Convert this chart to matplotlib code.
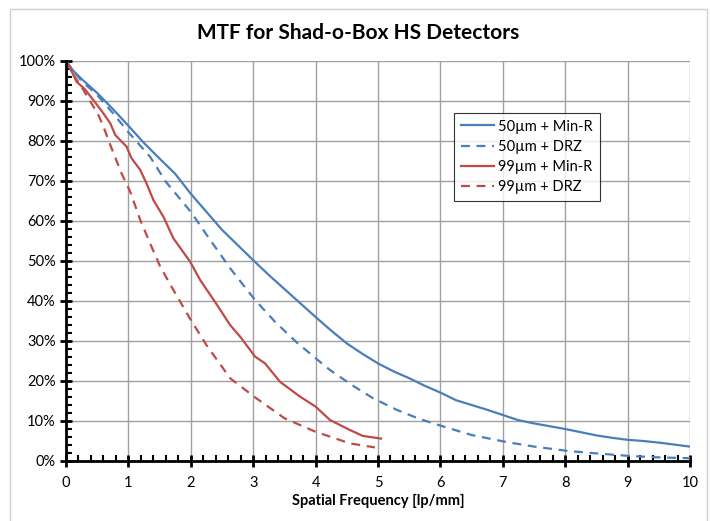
import matplotlib
matplotlib.use("Agg")
import matplotlib.pyplot as plt
from matplotlib.ticker import MultipleLocator, FuncFormatter
from matplotlib.patches import Rectangle

plt.rcParams['font.family'] = ['Lato', 'DejaVu Sans']

# ---- data ----
x_50_minr = [0, 0.12, 0.25, 0.5, 0.75, 1.0, 1.25, 1.5, 1.75, 2.0, 2.25, 2.5, 2.75,
             3.0, 3.25, 3.5, 3.75, 4.0, 4.25, 4.5, 4.75, 5.0, 5.25, 5.5, 5.75,
             6.0, 6.25, 6.5, 6.75, 7.0, 7.25, 7.5, 7.75, 8.0, 8.25, 8.5, 8.75,
             9.0, 9.25, 9.5, 9.75, 10.0]
y_50_minr = [100, 97.5, 95.5, 92, 88, 83.8, 79.5, 75.6, 71.8, 66.8, 62.3, 57.8, 54.0,
             50.2, 46.5, 43.0, 39.5, 36.0, 32.6, 29.4, 26.8, 24.4, 22.4, 20.7, 18.8,
             17.1, 15.2, 14.0, 12.8, 11.5, 10.2, 9.4, 8.7, 8.0, 7.2, 6.4, 5.8,
             5.3, 5.0, 4.6, 4.1, 3.6]

x_50_drz = [0, 0.12, 0.25, 0.5, 0.75, 1.0, 1.35, 1.6, 2.0, 2.3, 2.63, 2.84, 3.03,
            3.35, 3.7, 4.07, 4.23, 4.6, 4.92, 5.3, 5.65, 6.05, 6.5, 7.04, 7.5,
            8.05, 8.5, 9.04, 9.5, 10.0]
y_50_drz = [100, 97.5, 95.0, 91.5, 87, 82.2, 76.0, 69.8, 62.3, 55.5, 48.2, 44.0, 40.25,
            34.8, 29.6, 24.8, 22.75, 18.8, 15.7, 12.8, 10.6, 8.6, 6.5, 4.8, 3.6,
            2.5, 1.9, 1.25, 0.9, 0.7]

x_99_minr = [0, 0.12, 0.17, 0.3, 0.46, 0.6, 0.71, 0.79, 0.97, 1.05, 1.19, 1.29, 1.40,
             1.56, 1.72, 1.99, 2.15, 2.4, 2.63, 2.79, 3.03, 3.19, 3.43, 3.75, 4.0,
             4.23, 4.55, 4.76, 4.92, 5.05]
y_99_minr = [100, 96.5, 94.8, 93.0, 89.8, 86.9, 84.4, 81.5, 78.6, 75.7, 72.75, 69.4, 65.25,
             61.1, 55.7, 49.8, 45.25, 39.5, 34.0, 31.1, 26.1, 24.4, 19.8, 16.1, 13.6,
             10.25, 7.75, 6.25, 5.9, 5.6]

x_99_drz = [0, 0.12, 0.25, 0.52, 0.6, 0.71, 0.89, 1.03, 1.19, 1.37, 1.51, 1.69, 2.0,
            2.25, 2.63, 3.03, 3.5, 4.0, 4.23, 4.55, 4.95]
y_99_drz = [100, 96.5, 93.5, 86.5, 83.6, 79.0, 71.9, 67.3, 60.25, 53.6, 48.6, 43.6, 35.25,
            29.0, 20.7, 15.9, 10.7, 7.3, 6.1, 4.4, 3.4]

labels = ["50µm + Min-R", "50µm + DRZ", "99µm + Min-R", "99µm + DRZ"]
blue = "#4a7ebb"
red = "#be4b48"

fig = plt.figure(figsize=(7.1, 5.21), dpi=100)
fig.patches.append(Rectangle((10/710, -0.01), 697/710, 1 - 9/521 + 0.01,
                             transform=fig.transFigure, fill=False,
                             edgecolor="#d0d0d0", linewidth=1.0))
ax = fig.add_axes([66/710, 1 - 461/521, 624/710, 400/521])

lw = 1.6
ax.plot(x_50_minr, y_50_minr, color=blue, lw=lw, label=labels[0])
ax.plot(x_50_drz, y_50_drz, color=blue, lw=lw, ls=(0, (4, 3)), label=labels[1])
ax.plot(x_99_minr, y_99_minr, color=red, lw=lw, label=labels[2])
ax.plot(x_99_drz, y_99_drz, color=red, lw=lw, ls=(0, (4, 3)), label=labels[3])

ax.set_xlim(0, 10)
ax.set_ylim(0, 100)
ax.xaxis.set_major_locator(MultipleLocator(1))
ax.xaxis.set_minor_locator(MultipleLocator(0.2))
ax.yaxis.set_major_locator(MultipleLocator(10))
ax.yaxis.set_minor_locator(MultipleLocator(2))
ax.yaxis.set_major_formatter(FuncFormatter(lambda v, p: f"{int(round(v))}%"))

ax.grid(True, which="major", color="#a0a0a0", linewidth=1.0)
ax.set_axisbelow(True)
for s in ["top", "right"]:
    ax.spines[s].set_visible(False)
for s in ["left", "bottom"]:
    ax.spines[s].set_linewidth(2.0)
    ax.spines[s].set_color("black")
    ax.spines[s].set_zorder(5)

ax.tick_params(which="major", direction="inout", length=9, width=2, colors="black",
               labelsize=10.5, pad=3)
ax.tick_params(which="minor", direction="in", length=4, width=1.5, colors="black")
ax.tick_params(axis="x", which="major", pad=6)

ax.set_xlabel("Spatial Frequency [lp/mm]", fontsize=10.5, fontweight="bold", labelpad=3)
fig.text(0.505, 1 - 33/521, "MTF for Shad-o-Box HS Detectors", ha="center", va="center",
         fontsize=15, fontweight="bold")

leg = ax.legend(loc="upper left", bbox_to_anchor=((454 - 66)/624, 1 - (113 - 61)/400),
                frameon=True, fancybox=False, edgecolor="black", fontsize=10.5,
                handlelength=2.3, borderpad=0.45, labelspacing=0.42, handletextpad=0.3,
                borderaxespad=0)
leg.get_frame().set_linewidth(0.8)

fig.savefig("out.png", dpi=100)
